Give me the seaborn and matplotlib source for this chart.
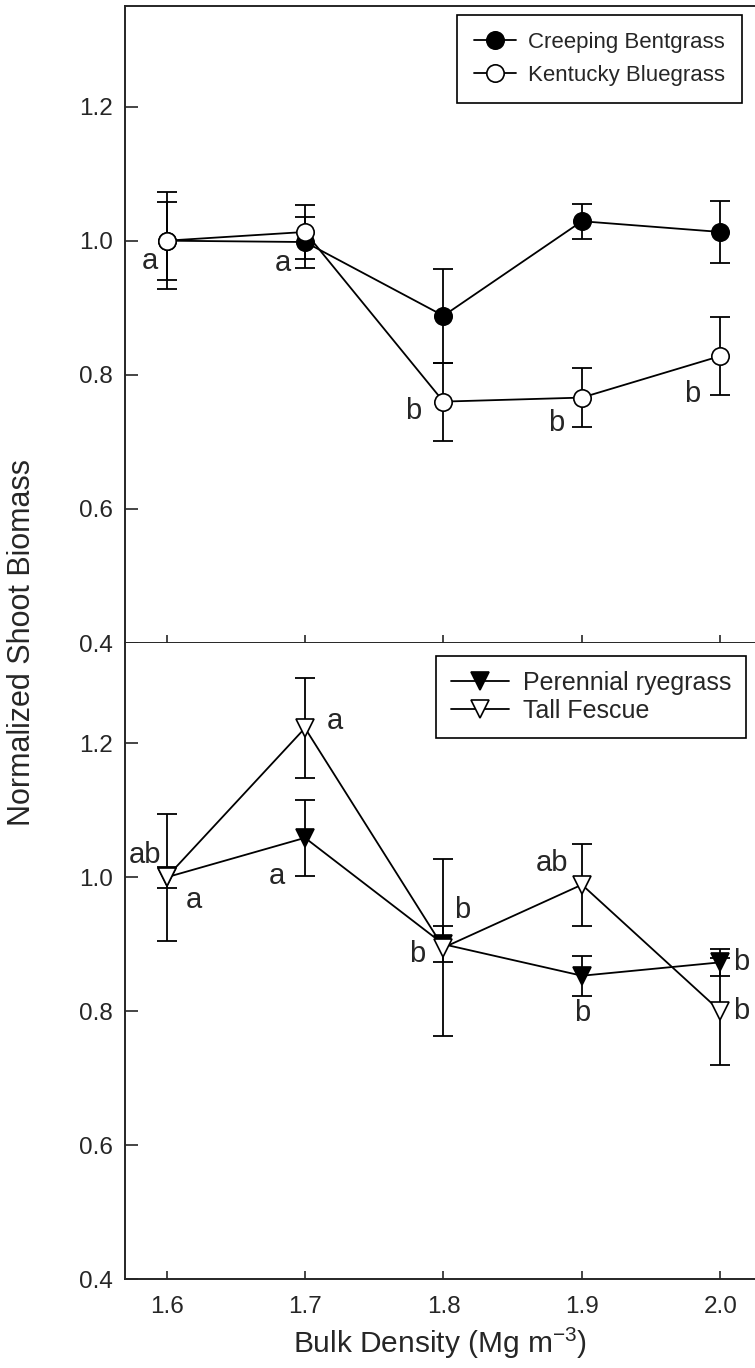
import numpy as np
import pandas as pd
import matplotlib
matplotlib.use("Agg")
import matplotlib.pyplot as plt
import seaborn as sns

# ---------------- data ----------------
density = [1.6, 1.7, 1.8, 1.9, 2.0]

bent_mean = [1.000, 0.998, 0.888, 1.029, 1.013]
bent_se = [0.058, 0.038, 0.070, 0.026, 0.046]
blue_mean = [1.000, 1.013, 0.760, 0.766, 0.828]
blue_se = [0.072, 0.040, 0.058, 0.044, 0.058]
blue_letters = ["a", "a", "b", "b", "b"]

rye_mean = [1.000, 1.059, 0.900, 0.853, 0.873]
rye_se = [0.016, 0.057, 0.027, 0.030, 0.020]
rye_letters = ["a", "a", "b", "b", "b"]
fescue_mean = [1.000, 1.223, 0.895, 0.989, 0.800]
fescue_se = [0.095, 0.074, 0.132, 0.061, 0.080]
fescue_letters = ["ab", "a", "b", "ab", "b"]

y_ticks = [0.4, 0.6, 0.8, 1.0, 1.2]
x_ticks = [1.6, 1.7, 1.8, 1.9, 2.0]
x_ticklabels = ["1.6", "1.7", "1.8", "1.9", "2.0"]

# letter offsets (pixels: dx, dy up) -- layout only
blue_off = [(-17, -20), (-22, -31), (-30, -9), (-26, -25), (-28, -38)]
rye_off = [(27, -23), (-28, -38), (-26, -10), (0, -37), (21, 0)]
fescue_off = [(-22, 22), (30, 7), (19, 38), (-30, 22), (21, 0)]

# ---------------- style ----------------
sns.set_style("ticks")
plt.rcParams["font.family"] = ["Liberation Sans", "DejaVu Sans"]
plt.rcParams["mathtext.fontset"] = "custom"
plt.rcParams["mathtext.rm"] = "Liberation Sans"
plt.rcParams["mathtext.it"] = "Liberation Sans:italic"

W, H = 755, 1368
fig = plt.figure(figsize=(W / 100, H / 100), dpi=100)
L, R = 125, 755
ax_top = fig.add_axes([L / W, 1 - 643 / H, (R - L) / W, (643 - 6) / H])
ax_bot = fig.add_axes([L / W, 1 - 1279 / H, (R - L) / W, (1279 - 643) / H])

LW = 1.3
TICK_FS = 17.5
LAB_FS = 21.5
LET_FS = 21
LEG_FS = 18


def draw_series(ax, mean, se, marker, ms, face, label):
    ax.errorbar(density, mean, yerr=se, fmt="none", ecolor="black",
                elinewidth=LW, capsize=7.2, capthick=LW, zorder=2)
    sns.lineplot(x=density, y=mean, ax=ax, color="black", marker=marker,
                 markersize=ms, markerfacecolor=face, markeredgecolor="black",
                 markeredgewidth=1.2, linewidth=LW, label=label, zorder=3)


def draw_letters(ax, mean, letters, offs):
    for x, y, t, (dx, dy) in zip(density, mean, letters, offs):
        ax.annotate(t, xy=(x, y), xytext=(dx * 0.72, dy * 0.72),
                    textcoords="offset points", ha="center", va="center",
                    fontsize=LET_FS, annotation_clip=False)


draw_series(ax_top, bent_mean, bent_se, "o", 12.5, "black", "Creeping Bentgrass")
draw_series(ax_top, blue_mean, blue_se, "o", 12.5, "white", "Kentucky Bluegrass")
draw_letters(ax_top, blue_mean, blue_letters, blue_off)

draw_series(ax_bot, rye_mean, rye_se, "v", 13.5, "black", "Perennial ryegrass")
draw_series(ax_bot, fescue_mean, fescue_se, "v", 13.5, "white", "Tall Fescue")
draw_letters(ax_bot, rye_mean, rye_letters, rye_off)
draw_letters(ax_bot, fescue_mean, fescue_letters, fescue_off)

for ax in (ax_top, ax_bot):
    ax.set_xlim(1.57, 2.025)
    ax.set_ylim(0.4, 1.35)
    ax.set_yticks(y_ticks)
    ax.set_yticklabels([f"{v:.1f}" for v in y_ticks])
    ax.set_xticks(x_ticks)
    ax.tick_params(axis="y", direction="in", length=9, width=1.2,
                   labelsize=TICK_FS, pad=9)
    ax.tick_params(axis="x", direction="in", length=5.8, width=1.2,
                   labelsize=TICK_FS, pad=12)
    ax.spines["right"].set_visible(False)
    for s in ("left", "bottom", "top"):
        ax.spines[s].set_linewidth(1.4)
    ax.set_xlabel("")
    ax.set_ylabel("")

ax_top.tick_params(axis="x", labelbottom=False)
ax_bot.spines["top"].set_visible(False)
ax_bot.set_xticklabels(x_ticklabels)
ax_bot.set_xlabel(r"Bulk Density (Mg m$^{\mathregular{-3}}$)", fontsize=LAB_FS,
                  labelpad=6)

fig.text(22 / W, 1 - 643 / H, "Normalized Shoot Biomass", rotation=90,
         ha="center", va="center", fontsize=22)

leg_common = dict(loc="upper right", frameon=True, fancybox=False,
                  edgecolor="black", framealpha=1, borderaxespad=0)
leg1 = ax_top.legend(bbox_to_anchor=((742 - L) / (R - L), 1 - 9 / 637),
                     fontsize=16, handlelength=1.9, handletextpad=0.55,
                     labelspacing=0.55, borderpad=0.75, **leg_common)
leg2 = ax_bot.legend(bbox_to_anchor=((746 - L) / (R - L), 1 - 13 / 636),
                     fontsize=LEG_FS, handlelength=2.3, handletextpad=0.56,
                     labelspacing=0.15, borderpad=0.6, **leg_common)
for leg in (leg1, leg2):
    leg.get_frame().set_linewidth(1.2)

fig.savefig("out.png", dpi=100)
